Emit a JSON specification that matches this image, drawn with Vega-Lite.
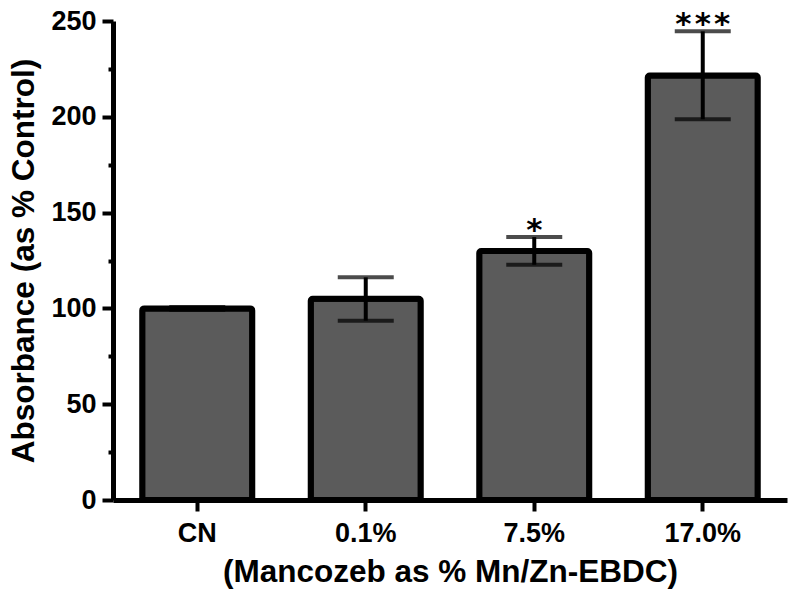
{
  "$schema": "https://vega.github.io/schema/vega-lite/v6.json",
  "width": 674,
  "height": 479,
  "autosize": {"type": "none"},
  "padding": {"left": 113, "top": 21, "right": 13, "bottom": 104},
  "background": "white",
  "config": {
    "view": {"stroke": null},
    "font": "Liberation Sans",
    "axis": {
      "labelFont": "Liberation Sans",
      "labelFontWeight": "bold",
      "labelColor": "black",
      "titleFont": "Liberation Sans",
      "titleFontWeight": "bold",
      "titleColor": "black",
      "domainColor": "black",
      "tickColor": "black",
      "grid": false
    }
  },
  "data": {
    "values": [
      {"group": "CN", "mean": 100, "lo": 99.3, "hi": 100.7, "sig": ""},
      {"group": "0.1%", "mean": 105, "lo": 93.6, "hi": 116.2, "sig": ""},
      {"group": "7.5%", "mean": 130, "lo": 122.8, "hi": 137.2, "sig": "*"},
      {"group": "17.0%", "mean": 221.5, "lo": 198.7, "hi": 244.6, "sig": "*\u200a*\u200a*"}
    ]
  },
  "encoding": {
    "x": {
      "field": "group",
      "type": "nominal",
      "sort": null,
      "scale": {"paddingInner": 0.347, "paddingOuter": 0.1735},
      "axis": {
        "title": "(Mancozeb as % Mn/Zn-EBDC)",
        "labelAngle": 0,
        "labelFontSize": 27,
        "labelPadding": 9,
        "titleFontSize": 31.5,
        "titlePadding": 10,
        "domainWidth": 5,
        "tickWidth": 4,
        "tickSize": 11
      }
    }
  },
  "layer": [
    {
      "mark": {"type": "bar", "fill": "#5b5b5b", "stroke": "black", "strokeWidth": 6, "strokeJoin": "round", "cornerRadius": 2},
      "encoding": {
        "y": {
          "field": "mean",
          "type": "quantitative",
          "title": "Absorbance (as % Control)",
          "scale": {"domain": [0, 250], "nice": false},
          "axis": {
            "title": "Absorbance (as % Control)",
            "values": [0, 25, 50, 75, 100, 125, 150, 175, 200, 225, 250],
            "labelExpr": "datum.value % 50 === 0 ? datum.label : ''",
            "labelFontSize": 27,
            "labelPadding": 6,
            "titleFontSize": 31.5,
            "titlePadding": 10,
            "domainWidth": 5,
            "tickWidth": 4,
            "tickSize": {"condition": {"test": "datum.value % 50 !== 0", "value": 5}, "value": 11}
          }
        }
      }
    },
    {
      "mark": {
        "type": "errorbar",
        "color": "black",
        "ticks": {"size": 56, "thickness": 4, "color": "black"},
        "rule": {"strokeWidth": 4, "color": "black"}
      },
      "encoding": {
        "y": {"field": "lo", "type": "quantitative", "title": "Absorbance (as % Control)"},
        "y2": {"field": "hi"}
      }
    },
    {
      "mark": {"type": "text", "font": "DejaVu Sans", "fontWeight": "bold", "fontSize": 31, "baseline": "alphabetic", "align": "center", "dy": 3, "color": "black"},
      "encoding": {
        "y": {"field": "hi", "type": "quantitative", "title": "Absorbance (as % Control)"},
        "text": {"field": "sig"}
      }
    }
  ]
}
